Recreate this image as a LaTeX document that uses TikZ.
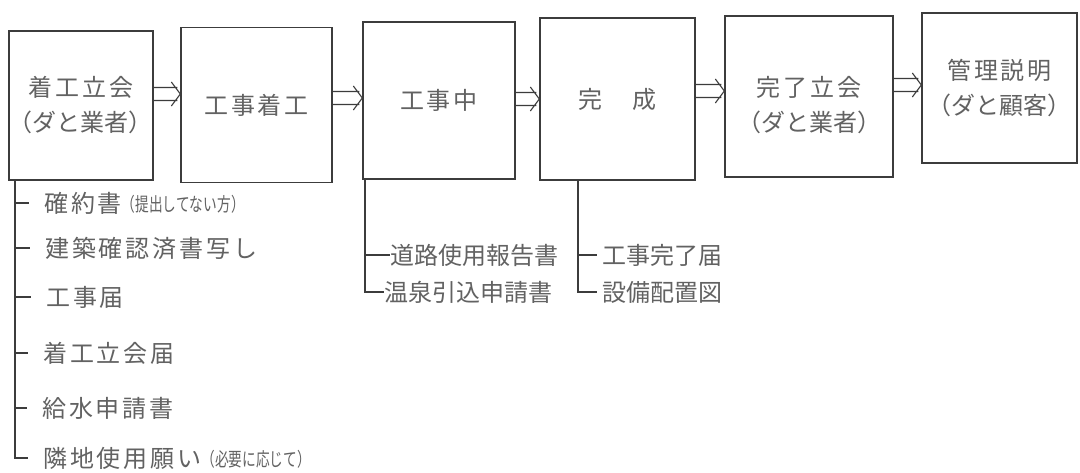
\documentclass[tikz,border=0pt]{standalone}
\usepackage{fontspec}
\usepackage{graphicx}
\newfontfamily\jp{Noto Sans CJK JP}
\usetikzlibrary{calc}
\newcommand\lsp[1]{{\addfontfeature{LetterSpace=12}#1}}
\newcommand\smallnote[1]{{\fontsize{19}{19}\selectfont\raisebox{1pt}{\scalebox{0.72}[1]{#1}}}}
\definecolor{ink}{HTML}{3C3C3C}
\definecolor{txt}{HTML}{626262}
\begin{document}
\begin{tikzpicture}[x=1pt,y=-1pt,
  box/.style={draw=ink, line width=1.3pt, inner sep=0pt, align=center,
    text=txt, font={\jp\fontsize{24}{35}\selectfont}},
  item/.style={anchor=west, inner sep=0pt, text=txt, font={\jp\fontsize{24}{28}\selectfont}},
  flow/.style={draw=ink, line width=1.1pt, line join=miter},
  tree/.style={draw=ink, line width=1.2pt}]
\fill[white] (0,0) rectangle (1080,473);
\useasboundingbox (0,0) rectangle (1080,473);

% process boxes
\node[box, minimum width=144pt, minimum height=149pt] (b1) at (81,105.5) {\lsp{着工立会}\\（ダと業者）};
\node[box, minimum width=151pt, minimum height=155pt] (b2) at (256.5,105) {\lsp{工事着工}};
\node[box, minimum width=152pt, minimum height=157pt] (b3) at (439,100.5) {\lsp{工事中}};
\node[box, minimum width=155pt, minimum height=162pt] (b4) at (617.5,99) {\lsp{完　成}};
\node[box, minimum width=168pt, minimum height=161pt] (b5) at (809,96.5) {\rule{0pt}{38pt}\lsp{完了立会}\\（ダと業者）};
\node[box, minimum width=155pt, minimum height=150pt] (b6) at (999.5,88) {\lsp{管理説明}\\（ダと顧客）};

% hollow double arrows
\coordinate (a12) at (0,94);
\coordinate (a23) at (0,98);
\coordinate (a34) at (0,99);
\coordinate (a45) at (0,91);
\coordinate (a56) at (0,85);
\foreach \s/\t/\h in {b1/b2/a12, b2/b3/a23, b3/b4/a34, b4/b5/a45, b5/b6/a56}{
  \draw[flow] let \p1=(\s.east |- \h), \p2=(\t.west |- \h) in
    (\x1,\y1+6.5pt) -- (\x2-3pt,\y1+6.5pt)
    (\x1,\y1-6.5pt) -- (\x2-3pt,\y1-6.5pt)
    (\x2-9pt,\y1+12pt) -- (\x2,\y1) -- (\x2-9pt,\y1-12pt);
}

% documents for b1
\node[item] (l1) at (44,203) {\lsp{確約書}\smallnote{（提出してない方）}};
\node[item] (l2) at (45,248) {\lsp{建築確認済書写し}};
\node[item] (l3) at (46,297) {\lsp{工事届}};
\node[item] (l4) at (43,353) {\lsp{着工立会届}};
\node[item] (l5) at (42,408) {\lsp{給水申請書}};
\node[item] (l6) at (43,458) {\lsp{隣地使用願い}\smallnote{（必要に応じて）}};
\coordinate (t1) at (15,0);
\draw[tree] (b1.south -| t1) -- (t1 |- l6.west) -- ([xshift=-15pt]l6.west);
\foreach \i in {1,...,5} \draw[tree] (t1 |- l\i.west) -- ([xshift=-15pt]l\i.west);

% documents for b3
\node[item] (m1) at (390,255) {道路使用報告書};
\node[item] (m2) at (384,292) {温泉引込申請書};
\coordinate (t3) at (365,0);
\draw[tree] (b3.south -| t3) -- (t3 |- m2.west) -- (m2.west);
\draw[tree] (t3 |- m1.west) -- (m1.west);

% documents for b4
\node[item] (n1) at (602,255) {工事完了届};
\node[item] (n2) at (602,292) {設備配置図};
\coordinate (t4) at (578,0);
\draw[tree] (b4.south -| t4) -- (t4 |- n2.west) -- ([xshift=-5pt]n2.west);
\draw[tree] (t4 |- n1.west) -- ([xshift=-5pt]n1.west);
\end{tikzpicture}
\end{document}
